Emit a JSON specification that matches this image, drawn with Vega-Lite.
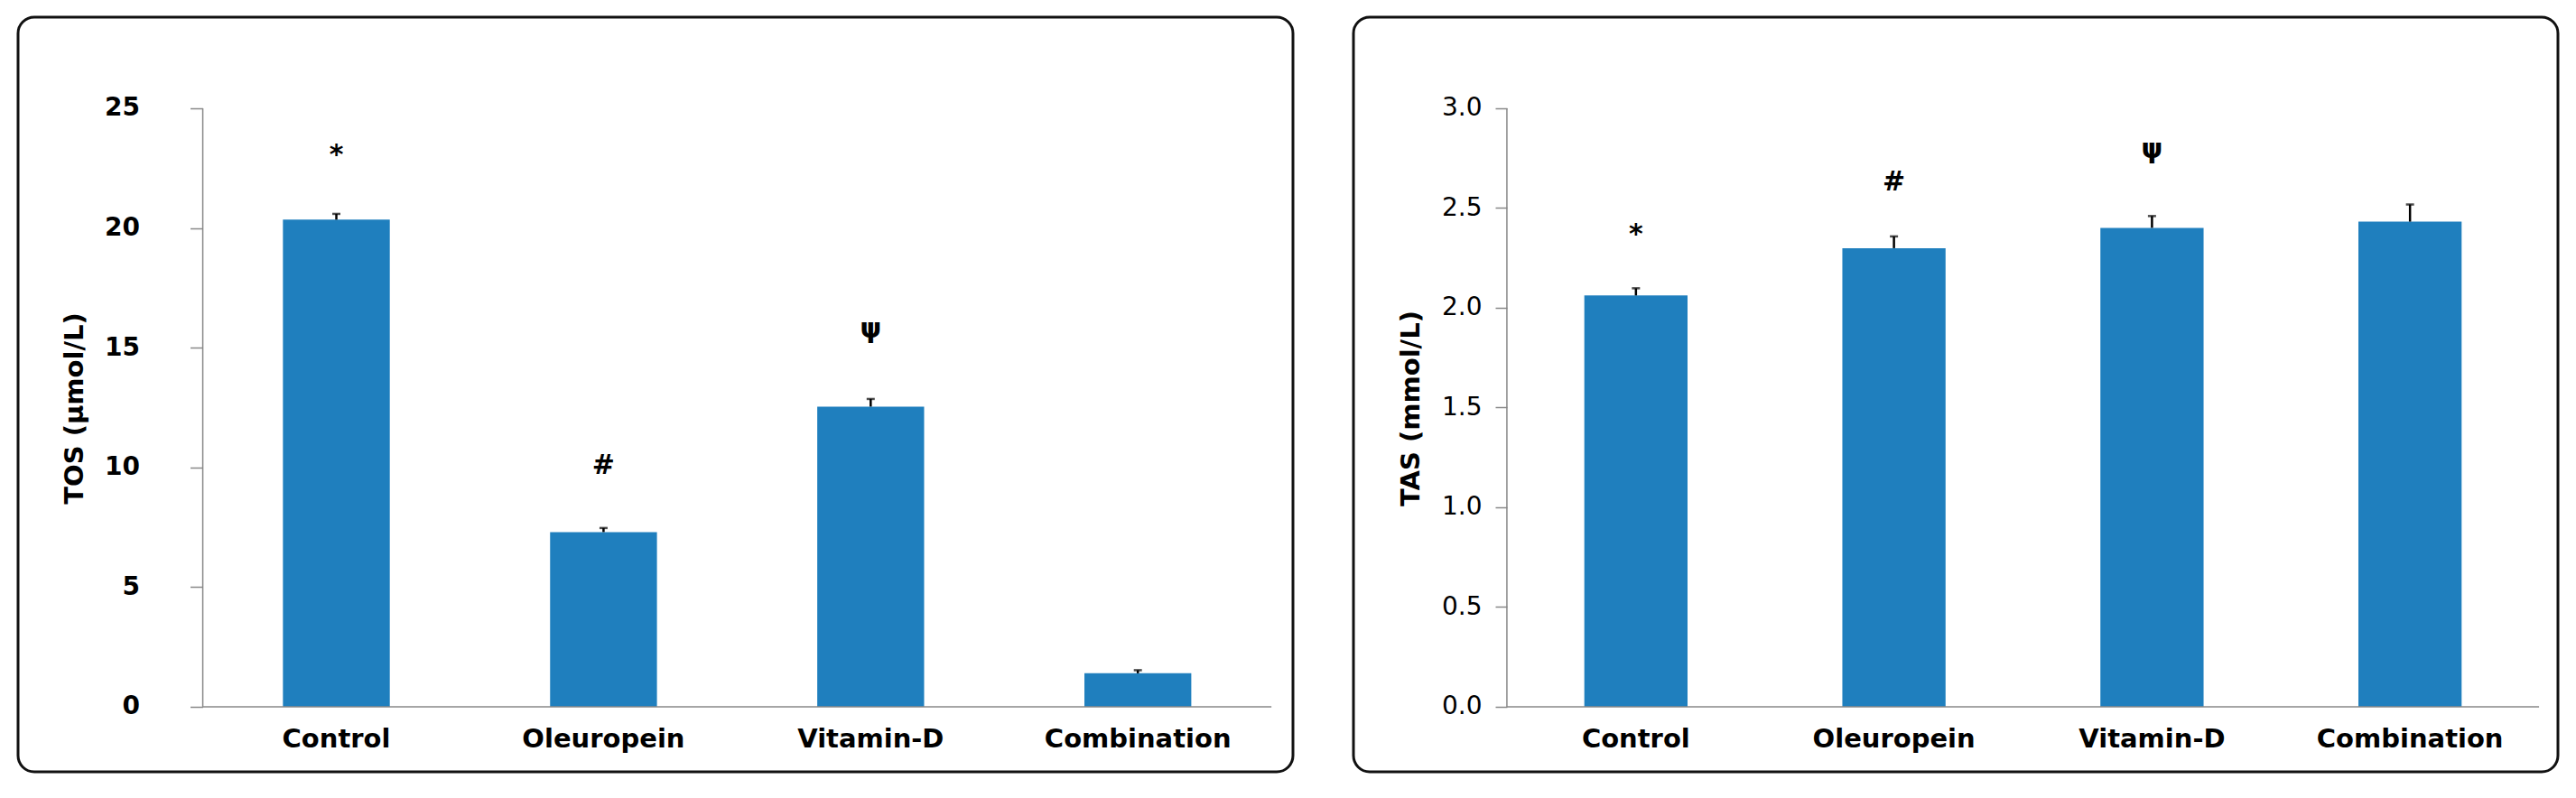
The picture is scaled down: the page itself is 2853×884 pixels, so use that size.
{
  "$schema": "https://vega.github.io/schema/vega-lite/v6.json",
  "padding": {"left": 18, "top": 17, "right": 0, "bottom": 0},
  "autosize": {"type": "pad"},
  "background": "white",
  "spacing": 63,
  "config": {
    "view": {"stroke": "#111111", "strokeWidth": 3, "cornerRadius": 18},
    "axis": {"domain": false, "grid": false}
  },
  "hconcat": [
    {
      "width": 1412,
      "height": 836,
      "data": {"values": [
        {"group": "Control", "value": 20.35, "upper": 20.59, "mark": "*", "markY": 23.05},
        {"group": "Oleuropein", "value": 7.30, "upper": 7.47, "mark": "#", "markY": 10.06},
        {"group": "Vitamin-D", "value": 12.54, "upper": 12.86, "mark": "ψ", "markY": 15.77},
        {"group": "Combination", "value": 1.40, "upper": 1.53, "mark": "", "markY": 0}
      ]},
      "encoding": {
        "x": {
          "field": "group", "type": "nominal", "sort": null,
          "scale": {"paddingInner": 0.6, "paddingOuter": 0.686, "align": 0.7226},
          "axis": {"title": null, "labelAngle": 0, "ticks": false, "offset": -72, "labelPadding": 21, "labelLimit": 0,
                   "labelFont": "DejaVu Sans", "labelFontWeight": "bold", "labelFontSize": 29, "labelColor": "#000000"}
        }
      },
      "layer": [
        {
          "mark": {"type": "bar", "color": "#1f7fbe"},
          "encoding": {
            "y": {"field": "value", "type": "quantitative",
                  "scale": {"domain": [-2.715, 28.808], "nice": false, "zero": false},
                  "axis": {"title": "TOS (µmol/L)", "values": [0, 5, 10, 15, 20, 25], "offset": -204.5,
                           "tickSize": 14, "tickColor": "#888888", "tickWidth": 1.5, "labelPadding": 56,
                           "labelFont": "DejaVu Sans", "labelFontWeight": "bold", "labelFontSize": 28, "labelColor": "#000000",
                           "titleFont": "DejaVu Sans", "titleFontWeight": "bold", "titleFontSize": 29, "titleColor": "#000000",
                           "titlePadding": 18, "titleY": 433}},
            "y2": {"datum": 0}
          }
        },
        {
          "mark": {"type": "rule", "color": "#000000", "strokeWidth": 2.5},
          "encoding": {
            "y": {"field": "value", "type": "quantitative"},
            "y2": {"field": "upper"}
          }
        },
        {
          "mark": {"type": "tick", "color": "#000000", "thickness": 2.5, "size": 9, "orient": "horizontal"},
          "encoding": {"y": {"field": "upper", "type": "quantitative"}}
        },
        {
          "mark": {"type": "text", "font": "DejaVu Sans", "fontWeight": "bold", "fontSize": 30, "color": "#000000", "baseline": "middle"},
          "encoding": {
            "y": {"field": "markY", "type": "quantitative"},
            "text": {"field": "mark"}
          }
        },
        {
          "data": {"values": [{"line": "y axis"}]},
          "mark": {"type": "rule", "color": "#888888", "strokeWidth": 1.5},
          "encoding": {
            "x": {"datum": "Control", "type": "nominal", "bandPosition": -0.75},
            "y": {"datum": 0, "type": "quantitative"},
            "y2": {"datum": 25}
          }
        },
        {
          "data": {"values": [{"line": "x axis"}]},
          "mark": {"type": "rule", "color": "#888888", "strokeWidth": 1.5},
          "encoding": {
            "x": {"datum": "Control", "type": "nominal", "bandPosition": -0.75},
            "x2": {"datum": "Combination", "bandPosition": 1.75},
            "y": {"datum": 0, "type": "quantitative"}
          }
        }
      ]
    },
    {
      "width": 1334,
      "height": 836,
      "data": {"values": [
        {"group": "Control", "value": 2.062, "upper": 2.098, "mark": "*", "markY": 2.366},
        {"group": "Oleuropein", "value": 2.299, "upper": 2.358, "mark": "#", "markY": 2.628},
        {"group": "Vitamin-D", "value": 2.401, "upper": 2.460, "mark": "ψ", "markY": 2.794},
        {"group": "Combination", "value": 2.432, "upper": 2.518, "mark": "", "markY": 0}
      ]},
      "encoding": {
        "x": {
          "field": "group", "type": "nominal", "sort": null,
          "scale": {"paddingInner": 0.6, "paddingOuter": 0.634, "align": 0.7056},
          "axis": {"title": null, "labelAngle": 0, "ticks": false, "offset": -72, "labelPadding": 21, "labelLimit": 0,
                   "labelFont": "DejaVu Sans", "labelFontWeight": "bold", "labelFontSize": 29, "labelColor": "#000000"}
        }
      },
      "layer": [
        {
          "mark": {"type": "bar", "color": "#1f7fbe"},
          "encoding": {
            "y": {"field": "value", "type": "quantitative",
                  "scale": {"domain": [-0.3258, 3.457], "nice": false, "zero": false},
                  "axis": {"title": "TAS (mmol/L)", "values": [0, 0.5, 1, 1.5, 2, 2.5, 3], "format": ".1f", "offset": -170,
                           "tickSize": 13, "tickColor": "#888888", "tickWidth": 1.5, "labelPadding": 15,
                           "labelFont": "DejaVu Sans", "labelFontWeight": "normal", "labelFontSize": 28, "labelColor": "#000000",
                           "titleFont": "DejaVu Sans", "titleFontWeight": "bold", "titleFontSize": 29, "titleColor": "#000000",
                           "titlePadding": 19, "titleY": 433}},
            "y2": {"datum": 0}
          }
        },
        {
          "mark": {"type": "rule", "color": "#000000", "strokeWidth": 2.5},
          "encoding": {
            "y": {"field": "value", "type": "quantitative"},
            "y2": {"field": "upper"}
          }
        },
        {
          "mark": {"type": "tick", "color": "#000000", "thickness": 2.5, "size": 9, "orient": "horizontal"},
          "encoding": {"y": {"field": "upper", "type": "quantitative"}}
        },
        {
          "mark": {"type": "text", "font": "DejaVu Sans", "fontWeight": "bold", "fontSize": 30, "color": "#000000", "baseline": "middle"},
          "encoding": {
            "y": {"field": "markY", "type": "quantitative"},
            "text": {"field": "mark"}
          }
        },
        {
          "data": {"values": [{"line": "y axis"}]},
          "mark": {"type": "rule", "color": "#888888", "strokeWidth": 1.5},
          "encoding": {
            "x": {"datum": "Control", "type": "nominal", "bandPosition": -0.75},
            "y": {"datum": 0, "type": "quantitative"},
            "y2": {"datum": 3}
          }
        },
        {
          "data": {"values": [{"line": "x axis"}]},
          "mark": {"type": "rule", "color": "#888888", "strokeWidth": 1.5},
          "encoding": {
            "x": {"datum": "Control", "type": "nominal", "bandPosition": -0.75},
            "x2": {"datum": "Combination", "bandPosition": 1.75},
            "y": {"datum": 0, "type": "quantitative"}
          }
        }
      ]
    }
  ]
}
